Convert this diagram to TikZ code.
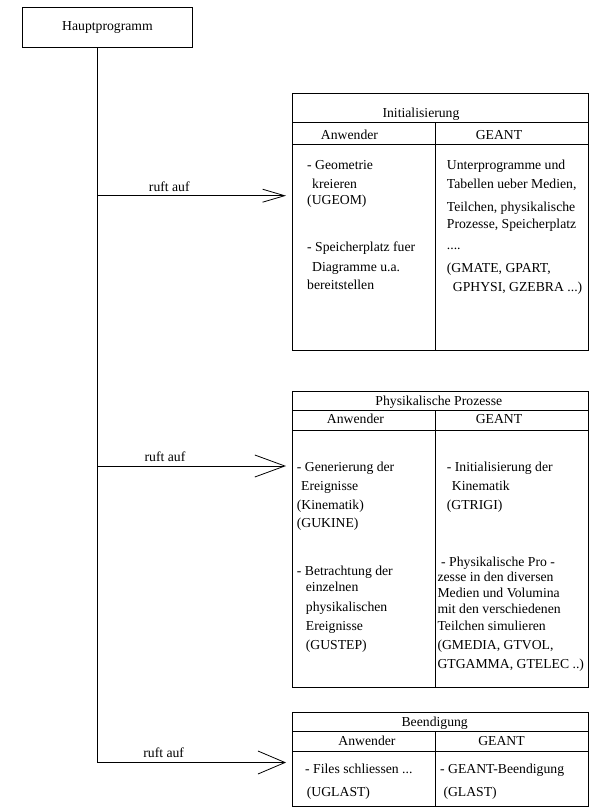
\documentclass[tikz,border=0pt]{standalone}
\usepackage{fontspec}
\setmainfont{Liberation Serif}
\usetikzlibrary{arrows.meta}

\begin{document}
\begin{tikzpicture}[
    x=1pt, y=-1pt,
    frame/.style={draw, line width=0.8pt, inner sep=0pt},
    rule/.style={line width=0.8pt},
    txt/.style={anchor=base west, inner sep=0pt, font=\fontsize{13.7}{16}\selectfont},
    head/.style={anchor=base, inner sep=0pt, font=\fontsize{13.7}{16}\selectfont},
    call/.style={line width=0.8pt, shorten >=6pt},
]
\useasboundingbox (0,0) rectangle (597,808);

% Hauptprogramm
\node[frame, minimum width=170pt, minimum height=40pt, font=\fontsize{13.7}{16}\selectfont] (main) at (107.5,27.3) {Hauptprogramm};

% Tables: frame, rules, title, column heads
\foreach \n/\ytop/\ya/\yb/\ybot/\title/\tx/\ty/\ax/\gx/\hy in {
  1/93/122/144/350/Initialisierung/421/117.8/349.5/499/139.5,
  2/391/410/430/687/Physikalische Prozesse/438.8/405.2/355.5/499/423.8,
  3/712/731/751/806/Beendigung/434.7/726.2/367/501.5/745.2
}{
  \pgfmathsetmacro{\h}{\ybot-\ytop}
  \node[frame, minimum width=296pt, minimum height=\h pt, anchor=north west] (tab\n) at (292,\ytop) {};
  \draw[rule] (292,\ya) -- (588,\ya) (292,\yb) -- (588,\yb) (435,\ya) -- (435,\ybot);
  \node[head] (title\n) at (\tx,\ty) {\title};
  \node[head] (user\n) at (\ax,\hy) {Anwender};
  \node[head] (geant\n) at (\gx,\hy) {GEANT};
}

% Initialisierung
\foreach \x/\y/\t [count=\i] in {
  307/169.5/{- Geometrie}, 312/188.8/kreieren, 307/204.5/(UGEOM),
  307/251.2/{- Speicherplatz fuer}, 312/271.2/{Diagramme u.a.}, 307/289.5/bereitstellen,
  446.7/169.5/{Unterprogramme und}, 446.7/188.8/{Tabellen ueber Medien,},
  446.7/211.2/{Teilchen, physikalische}, 446.7/228.8/{Prozesse, Speicherplatz},
  446.7/249.5/{....}, 446.7/272.8/{(GMATE, GPART,}, 452.7/291.2/{GPHYSI, GZEBRA ...)}
}{
  \node[txt] (ini\i) at (\x,\y) {\t};
}

% Physikalische Prozesse
\foreach \x/\y/\t [count=\i] in {
  296.7/471.8/{- Generierung der}, 301/490.5/Ereignisse, 296.7/509.5/(Kinematik),
  296.7/527.8/(GUKINE), 296.7/575.2/{- Betrachtung der}, 305.7/591.8/einzelnen,
  305.7/611.2/physikalischen, 305.7/630.5/Ereignisse, 305.7/649.5/(GUSTEP),
  446.7/471.8/{- Initialisierung der}, 451.7/490.5/Kinematik, 446.7/509.5/(GTRIGI),
  441/566.2/{- Physikalische Pro -}, 437.3/581.8/{zesse in den diversen},
  437.3/597.8/{Medien und Volumina}, 437.3/613.8/{mit den verschiedenen},
  437.3/630.5/{Teilchen simulieren}, 437.3/649.5/{(GMEDIA, GTVOL,},
  437.3/668.5/{GTGAMMA, GTELEC ..)}
}{
  \node[txt] (phy\i) at (\x,\y) {\t};
}

% Beendigung
\foreach \x/\y/\t [count=\i] in {
  305/773.8/{- Files schliessen ...}, 306.7/796.2/(UGLAST),
  440/773.8/{- GEANT-Beendigung}, 443.3/796.2/(GLAST)
}{
  \node[txt] (end\i) at (\x,\y) {\t};
}

% Aufrufe
\coordinate (c1) at (97.5,195.7);
\coordinate (c2) at (97.5,466);
\coordinate (c3) at (97.5,762.5);
\draw[rule] (main.south -| c1) -- (c3);
\draw[call, -{Straight Barb[length=22pt, width=13pt]}] (c1) -- (c1 -| tab1.west);
\draw[call, -{Straight Barb[length=30pt, width=22pt]}] (c2) -- (c2 -| tab2.west);
\draw[call, -{Straight Barb[length=27pt, width=23pt]}] (c3) -- (c3 -| tab3.west);
\node[head] (call1) at (169.3,191.4) {ruft auf};
\node[head] (call2) at (165,461.5) {ruft auf};
\node[head] (call3) at (163.7,757.8) {ruft auf};
\end{tikzpicture}
\end{document}
